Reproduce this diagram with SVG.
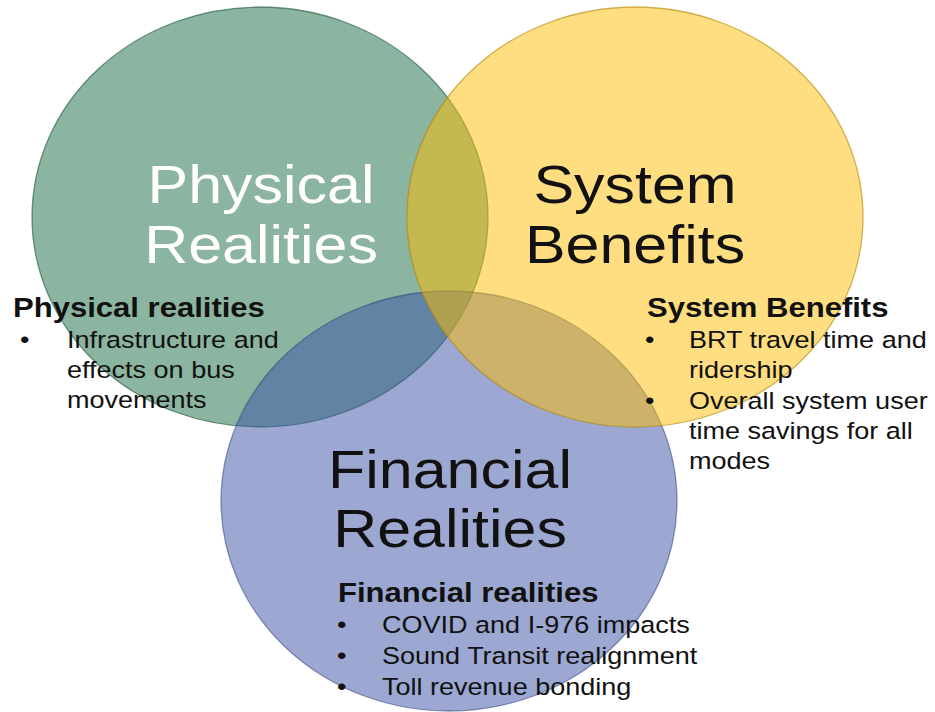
<svg xmlns="http://www.w3.org/2000/svg" width="935" height="712" viewBox="0 0 935 712">
  <style>
    .c { stroke-width: 1.3; }
    .big { font-family: "Liberation Sans", Arial, sans-serif; font-size: 53px; text-anchor: middle; }
    .hd { font-family: "Liberation Sans", Arial, sans-serif; font-size: 27px; font-weight: bold; fill: #111; }
    .tx { font-family: "Liberation Sans", Arial, sans-serif; font-size: 23.5px; fill: #111; }
  </style>
  <rect width="935" height="712" fill="#ffffff"/>
  <g id="connectors"></g>
  <g id="physical">
    <ellipse class="c" cx="260" cy="217" rx="228" ry="210" fill="#176B41" fill-opacity="0.5" stroke="#0f4a2c" stroke-opacity="0.55"/>
  </g>
  <g id="financial">
    <ellipse class="c" cx="449" cy="501" rx="228" ry="210" fill="#3951A5" fill-opacity="0.5" stroke="#27397a" stroke-opacity="0.5"/>
  </g>
  <g id="system">
    <ellipse class="c" cx="635" cy="217" rx="228" ry="210" fill="#FDBD01" fill-opacity="0.5" stroke="#b08400" stroke-opacity="0.6"/>
  </g>
  <g id="physical-text">
    <text class="big" fill="#ffffff" transform="translate(261,203) scale(1.15,1)">Physical</text>
    <text class="big" fill="#ffffff" transform="translate(261,263) scale(1.15,1)">Realities</text>
    <text class="hd" transform="translate(13,317) scale(1.15,1)">Physical realities</text>
    <text class="tx" transform="translate(20,348) scale(1.15,1)">•</text>
    <text class="tx" transform="translate(67,348) scale(1.15,1)">Infrastructure and</text>
    <text class="tx" transform="translate(67,378) scale(1.15,1)">effects on bus</text>
    <text class="tx" transform="translate(67,408) scale(1.15,1)">movements</text>
  </g>
  <g id="system-text">
    <text class="big" fill="#111111" transform="translate(635,203) scale(1.15,1)">System</text>
    <text class="big" fill="#111111" transform="translate(635,263) scale(1.15,1)">Benefits</text>
    <text class="hd" transform="translate(647,317) scale(1.15,1)">System Benefits</text>
    <text class="tx" transform="translate(645,348) scale(1.15,1)">•</text>
    <text class="tx" transform="translate(689,348) scale(1.15,1)">BRT travel time and</text>
    <text class="tx" transform="translate(689,378) scale(1.15,1)">ridership</text>
    <text class="tx" transform="translate(645,409) scale(1.15,1)">•</text>
    <text class="tx" transform="translate(689,409) scale(1.15,1)">Overall system user</text>
    <text class="tx" transform="translate(689,439) scale(1.15,1)">time savings for all</text>
    <text class="tx" transform="translate(689,469) scale(1.15,1)">modes</text>
  </g>
  <g id="financial-text">
    <text class="big" fill="#111111" transform="translate(450,488) scale(1.15,1)">Financial</text>
    <text class="big" fill="#111111" transform="translate(450,547) scale(1.15,1)">Realities</text>
    <text class="hd" transform="translate(338,602) scale(1.15,1)">Financial realities</text>
    <text class="tx" transform="translate(337,633) scale(1.15,1)">•</text>
    <text class="tx" transform="translate(382,633) scale(1.15,1)">COVID and I-976 impacts</text>
    <text class="tx" transform="translate(337,664) scale(1.15,1)">•</text>
    <text class="tx" transform="translate(382,664) scale(1.15,1)">Sound Transit realignment</text>
    <text class="tx" transform="translate(337,695) scale(1.15,1)">•</text>
    <text class="tx" transform="translate(382,695) scale(1.15,1)">Toll revenue bonding</text>
  </g>
</svg>
